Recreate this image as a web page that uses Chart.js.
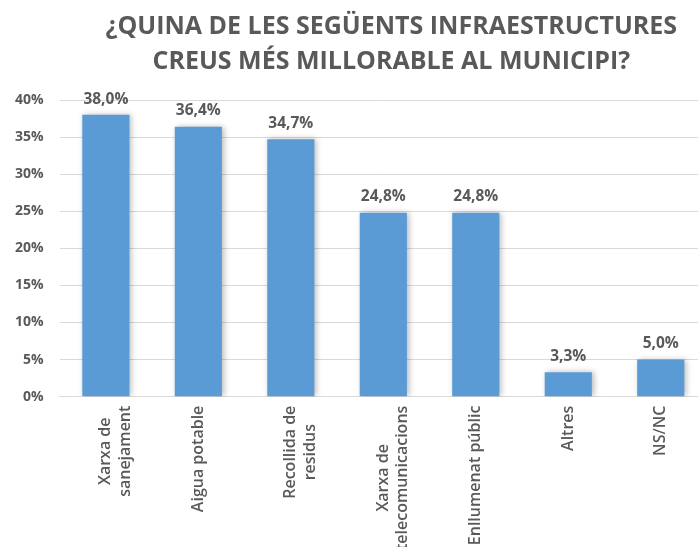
<!DOCTYPE html>
<html>
<head>
<meta charset="utf-8">
<script src="https://cdn.jsdelivr.net/npm/chart.js@4/dist/chart.umd.min.js"></script>
<style>
  html, body { margin: 0; padding: 0; background: #ffffff; overflow: hidden; }
  #wrap { position: relative; width: 712px; height: 559px; }
</style>
</head>
<body>
<div id="wrap"><canvas id="c"></canvas></div>
<script>
const categories = [
  ['Xarxa de', 'sanejament'],
  ['Aigua potable'],
  ['Recollida de', 'residus'],
  ['Xarxa de', 'telecomunicacions'],
  ['Enllumenat públic'],
  ['Altres'],
  ['NS/NC']
];
const values = [38.0, 36.4, 34.7, 24.8, 24.8, 3.3, 5.0];
const titleLines = ['¿QUINA DE LES SEGÜENTS INFRAESTRUCTURES', 'CREUS MÉS MILLORABLE AL MUNICIPI?'];
const yTicks = [0, 5, 10, 15, 20, 25, 30, 35, 40];

const GRAY = '#595959';
const FONT = "'Open Sans', 'DejaVu Sans', sans-serif";

const centerRotatedLabels = {
  id: 'centerRotatedLabels',
  beforeDraw(chart) {
    const s = chart.scales.x;
    const items = s.getLabelItems(chart.chartArea);
    const ctx = chart.ctx;
    items.forEach(it => {
      if (it._centered) return;
      ctx.save();
      ctx.font = it.font.string;
      const lines = Array.isArray(it.label) ? it.label : [it.label];
      let w = 0;
      lines.forEach(l => { w = Math.max(w, ctx.measureText(l).width); });
      ctx.restore();
      it.options.textAlign = 'center';
      it.options.translation = [it.options.translation[0], it.options.translation[1] + w / 2];
      it._centered = true;
    });
  }
};

const titleShift = {
  id: 'titleShift',
  afterLayout(chart) {
    if (chart.titleBlock) chart.titleBlock.left += 16;
  }
};

const barShadow = {
  id: 'barShadow',
  beforeDatasetDraw(chart) {
    const ctx = chart.ctx;
    ctx.save();
    ctx.shadowColor = 'rgba(0,0,0,0.28)';
    ctx.shadowBlur = 6;
    ctx.shadowOffsetX = 2;
    ctx.shadowOffsetY = 0;
  },
  afterDatasetDraw(chart) {
    chart.ctx.restore();
  }
};

const valueLabels = {
  id: 'valueLabels',
  afterDatasetsDraw(chart) {
    const ctx = chart.ctx;
    const meta = chart.getDatasetMeta(0);
    ctx.save();
    ctx.font = "bold 15.5px " + FONT;
    ctx.fillStyle = GRAY;
    ctx.textAlign = 'center';
    ctx.textBaseline = 'bottom';
    meta.data.forEach((bar, i) => {
      const v = chart.data.datasets[0].data[i];
      const txt = v.toFixed(1).replace('.', ',') + '%';
      ctx.fillText(txt, bar.x, bar.y - 8);
    });
    ctx.restore();
  }
};

new Chart(document.getElementById('c'), {
  type: 'bar',
  data: {
    labels: categories,
    datasets: [{
      data: values,
      backgroundColor: '#5B9BD5',
      borderWidth: 0,
      barPercentage: 0.51,
      categoryPercentage: 1.0
    }]
  },
  options: {
    responsive: true,
    maintainAspectRatio: false,
    animation: false,
    layout: { padding: { left: 15, right: 5, top: 0, bottom: 0 } },
    plugins: {
      legend: { display: false },
      tooltip: { enabled: false },
      title: {
        display: true,
        fullSize: false,
        text: titleLines,
        color: GRAY,
        font: { family: "'Open Sans', sans-serif", size: 25, weight: 'bold', lineHeight: 1.4 },
        padding: { top: 9, bottom: 21 }
      }
    },
    scales: {
      y: {
        min: 0,
        max: 40,
        afterBuildTicks(scale) { scale.ticks = yTicks.map(v => ({ value: v })); },
        afterFit(scale) { scale.width -= scale.options.ticks.padding; },
        ticks: {
          callback: v => v + '%',
          color: GRAY,
          font: { family: FONT, size: 14, weight: 'bold' },
          padding: 16
        },
        grid: { color: '#d9d9d9', drawTicks: false, lineWidth: 1 },
        border: { display: false }
      },
      x: {
        afterFit(scale) { scale.paddingLeft = 0; scale.paddingRight = 0; },
        ticks: {
          color: GRAY,
          font: { family: FONT, size: 16, weight: '600' },
          maxRotation: 90,
          minRotation: 90,
          padding: 9,
          autoSkip: false
        },
        grid: { display: false, drawTicks: false },
        border: { display: true, color: '#d9d9d9' }
      }
    }
  },
  plugins: [centerRotatedLabels, titleShift, barShadow, valueLabels]
});
</script>
</body>
</html>
